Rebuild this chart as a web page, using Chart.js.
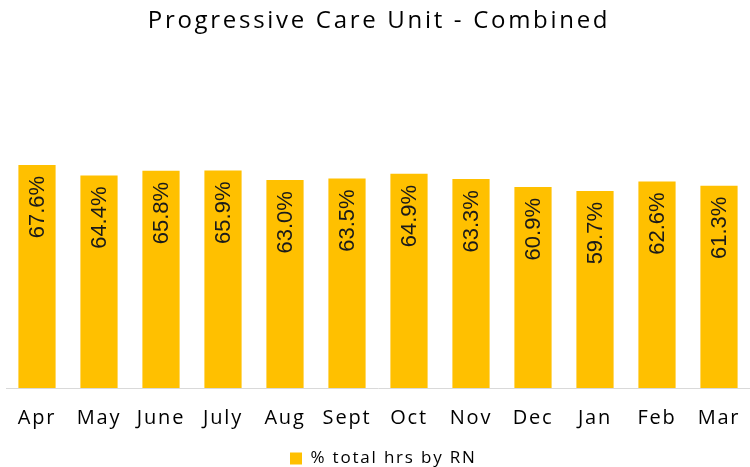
<!DOCTYPE html>
<html>
<head>
<meta charset="utf-8">
<script src="https://cdn.jsdelivr.net/npm/chart.js@4"></script>
<style>
  html, body { margin: 0; padding: 0; background: #fff; }
  #wrap { width: 750px; height: 467px; }
</style>
</head>
<body>
<div id="wrap"><canvas id="pcuChart"></canvas></div>
<script>
const chartTitle = 'Progressive Care Unit - Combined';
const months = ['Apr', 'May', 'June', 'July', 'Aug', 'Sept', 'Oct', 'Nov', 'Dec', 'Jan', 'Feb', 'Mar'];
const rnPercent = [67.6, 64.4, 65.8, 65.9, 63.0, 63.5, 64.9, 63.3, 60.9, 59.7, 62.6, 61.3];
const seriesName = '% total hrs by RN';

// letter spacing for axis text + title, reset before the bar labels
const spacingPlugin = {
  id: 'spacing',
  afterLayout(chart) {
    // nudge legend a little left, like the original
    chart.legend.left -= 10;
    chart.legend.right -= 10;
  },
  beforeDraw(chart) {
    chart.ctx.letterSpacing = '1.8px';
  },
  afterDraw(chart) {
    const ctx = chart.ctx;
    ctx.save();
    ctx.letterSpacing = '2.7px';
    ctx.font = '24px "Open Sans", sans-serif';
    ctx.fillStyle = '#000';
    ctx.textAlign = 'center';
    ctx.textBaseline = 'middle';
    ctx.fillText(chartTitle, 379, 21);
    ctx.restore();
  }
};

// rotated value labels inside the top of each bar
const barLabels = {
  id: 'barLabels',
  afterDatasetsDraw(chart) {
    const ctx = chart.ctx;
    const meta = chart.getDatasetMeta(0);
    ctx.save();
    ctx.letterSpacing = '0px';
    ctx.font = 'normal 400 22px "Liberation Sans", Arial, sans-serif';
    ctx.fillStyle = '#1a1a1a';
    ctx.textAlign = 'right';
    ctx.textBaseline = 'middle';
    meta.data.forEach((bar, i) => {
      ctx.save();
      ctx.translate(bar.x, bar.y + 11);
      ctx.rotate(-Math.PI / 2);
      ctx.fillText(rnPercent[i].toFixed(1) + '%', 0, 1);
      ctx.restore();
    });
    ctx.restore();
  }
};

new Chart(document.getElementById('pcuChart').getContext('2d'), {
  type: 'bar',
  data: {
    labels: months,
    datasets: [{
      label: seriesName,
      data: rnPercent,
      backgroundColor: '#FFC000',
      borderWidth: 0,
      categoryPercentage: 1,
      barPercentage: 0.6
    }]
  },
  options: {
    responsive: true,
    maintainAspectRatio: false,
    animation: false,
    layout: { padding: { top: 124, left: 6, right: 0, bottom: -10 } },
    scales: {
      x: {
        afterFit(scale) {
          scale.paddingLeft = 0;
          scale.paddingRight = 0;
        },
        grid: { display: false, drawTicks: false },
        border: { display: true, color: '#d9d9d9', width: 1 },
        ticks: {
          color: '#000',
          padding: 20,
          font: { family: '"Open Sans", sans-serif', size: 20, lineHeight: 1.0 }
        }
      },
      y: {
        display: false,
        min: 0,
        max: 80
      }
    },
    plugins: {
      title: { display: false },
      tooltip: { enabled: false },
      legend: {
        display: true,
        position: 'bottom',
        labels: {
          color: '#000',
          boxWidth: 12,
          boxHeight: 12,
          padding: 2,
          font: { family: '"Open Sans", sans-serif', size: 17 }
        }
      }
    }
  },
  plugins: [spacingPlugin, barLabels]
});
</script>
</body>
</html>
